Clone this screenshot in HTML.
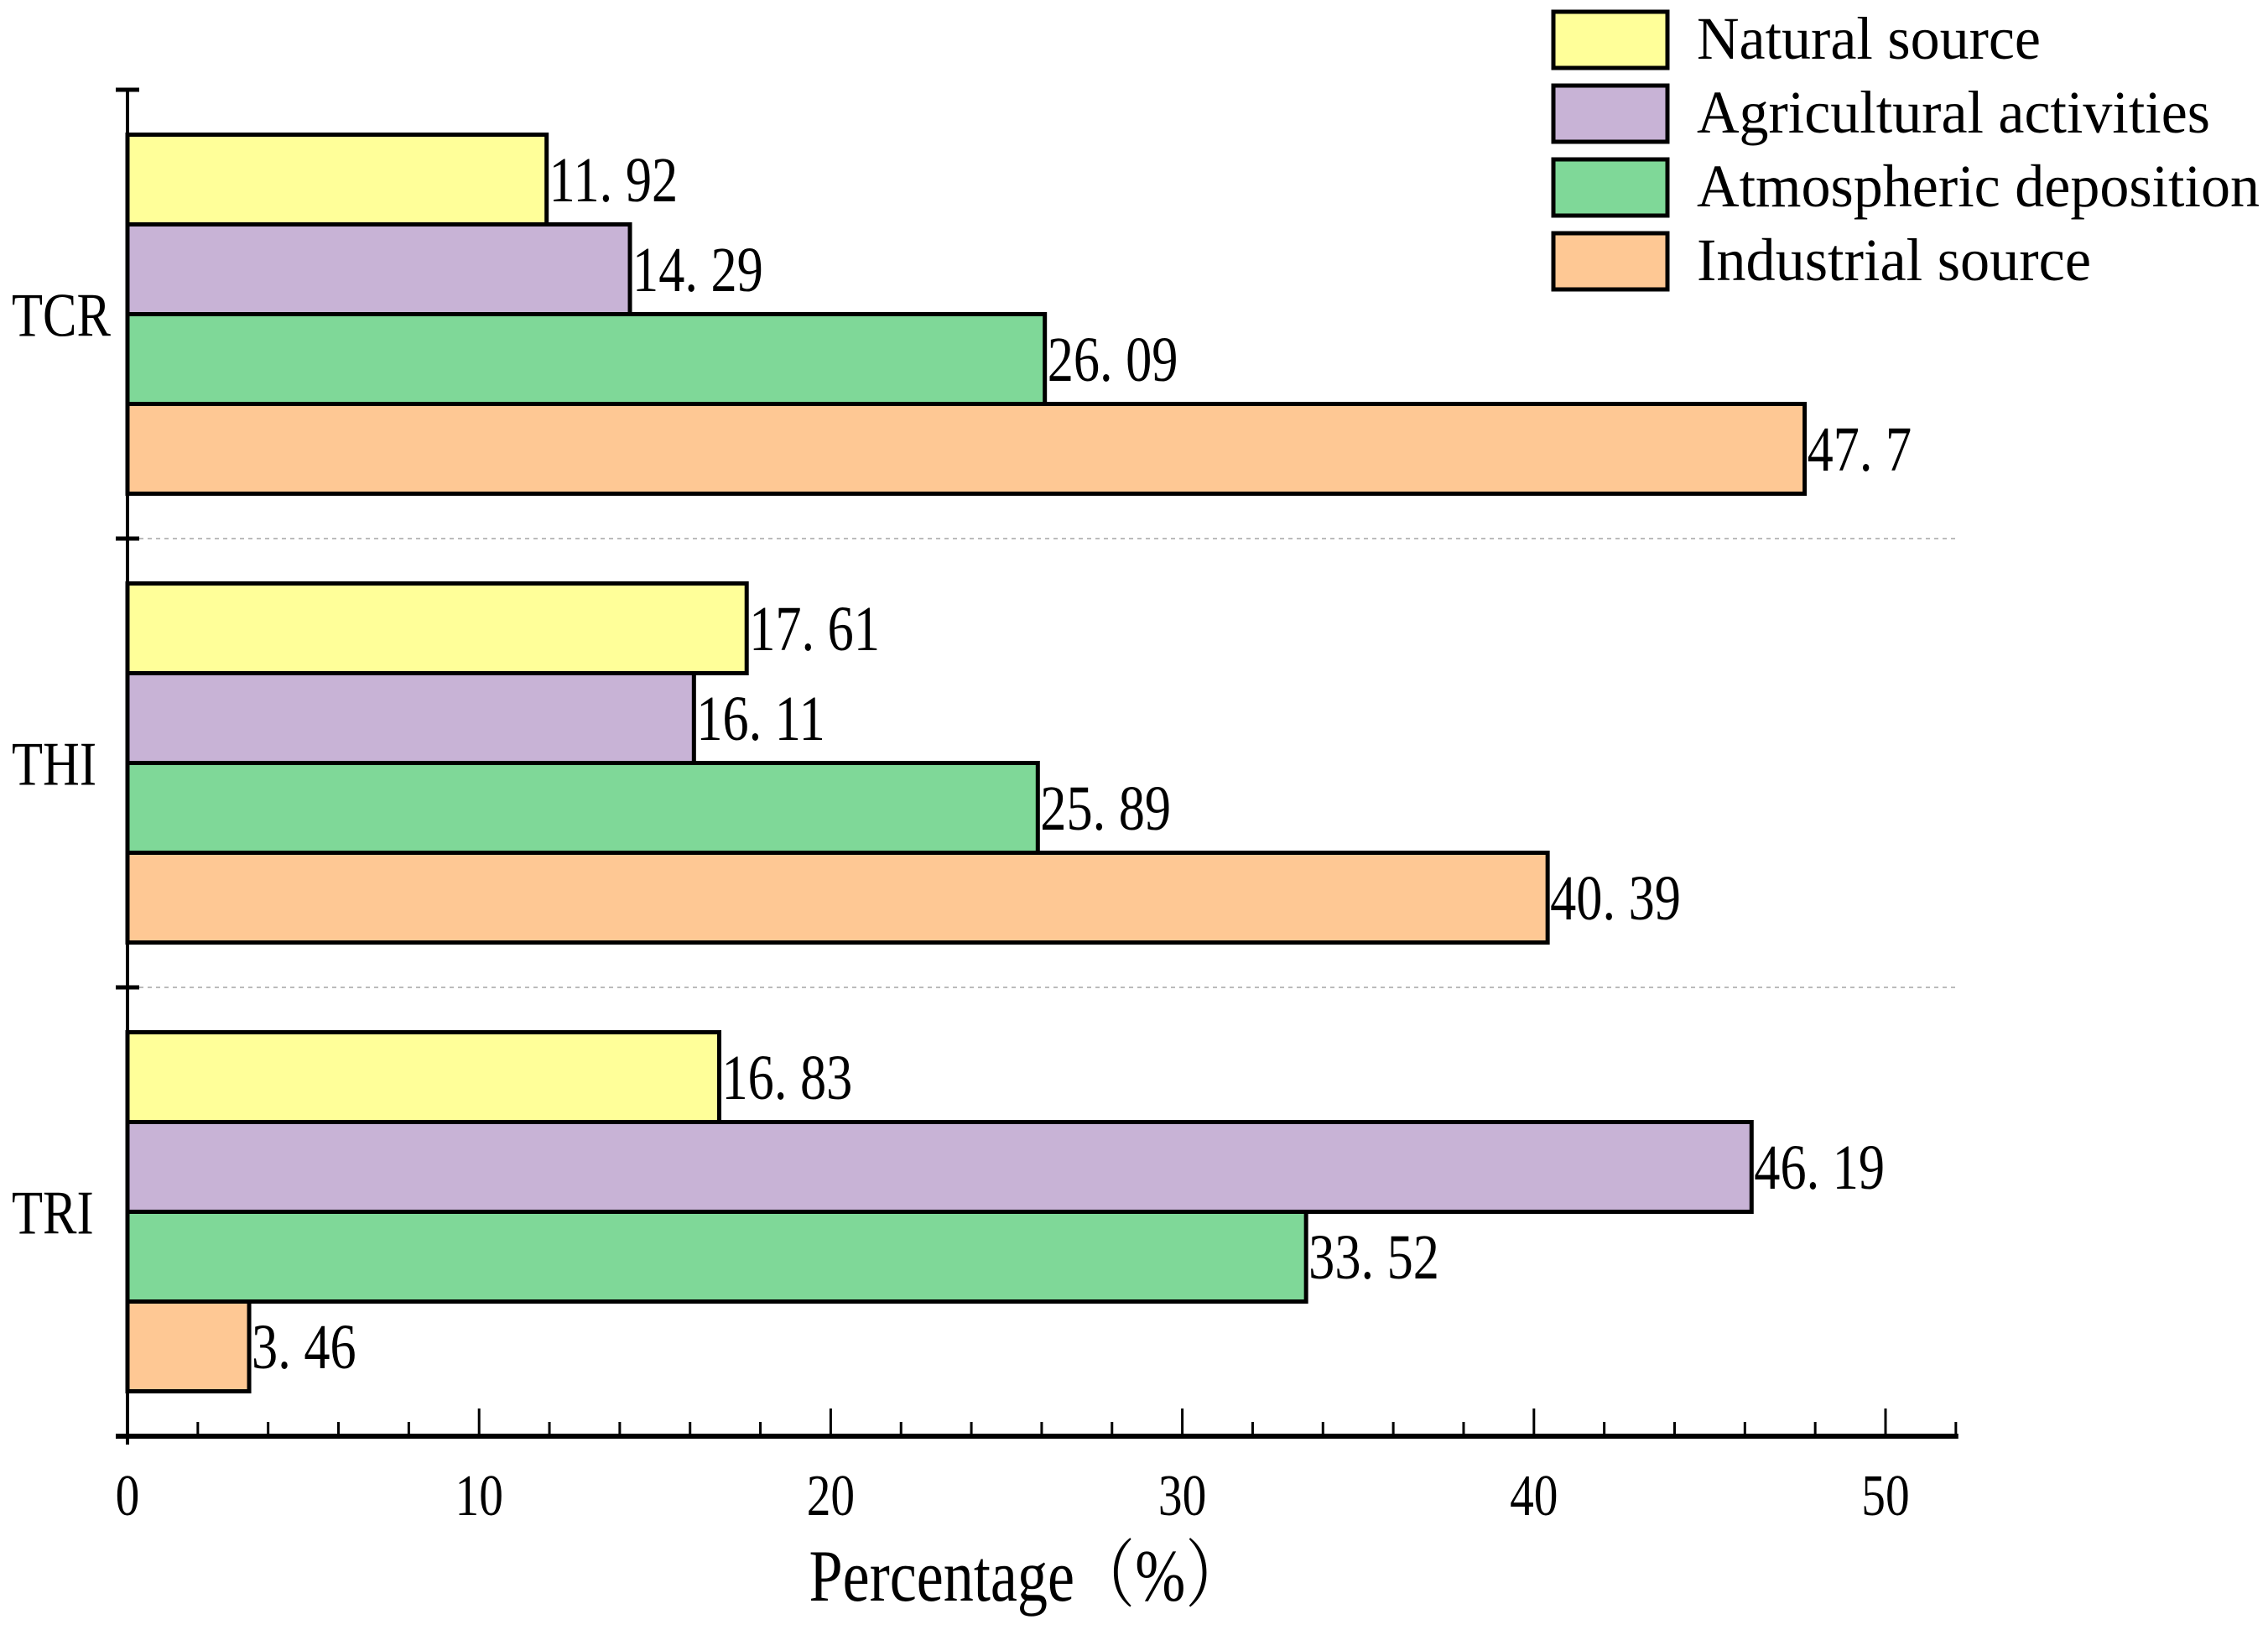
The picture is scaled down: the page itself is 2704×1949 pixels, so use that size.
<!DOCTYPE html>
<html><head><meta charset="utf-8"><style>
html,body{margin:0;padding:0;background:#fff;}
svg{display:block;}
text{font-family:"Liberation Serif","Noto Serif CJK SC",serif;fill:#000;}
</style></head><body>
<svg id="chart" width="2704" height="1949" viewBox="0 0 2704 1949" xmlns="http://www.w3.org/2000/svg"></svg>
<script>
const categories = ["TCR","THI","TRI"];
const seriesNames = ["Natural source","Agricultural activities","Atmospheric deposition","Industrial source"];
const natural = [11.92, 17.61, 16.83];
const agricultural = [14.29, 16.11, 46.19];
const atmospheric = [26.09, 25.89, 33.52];
const industrial = [47.7, 40.39, 3.46];
const valueLabels = [["11. 92","17. 61","16. 83"],["14. 29","16. 11","46. 19"],["26. 09","25. 89","33. 52"],["47. 7","40. 39","3. 46"]];
const xTicks = [0,10,20,30,40,50];

const series = [natural, agricultural, atmospheric, industrial];
const colors = ["#ffff99","#c8b3d6","#7fd898","#fec894"];
const NS = "http://www.w3.org/2000/svg";
const svg = document.getElementById("chart");
const X0 = 152, XUNIT = 41.92, XMAX = 52.07;
const YTOP = 107, YBOT = 1712;
const band = (YBOT - YTOP) / categories.length;
const barH = 107, pad = (band - 4 * barH) / 2;
function xs(v){ return X0 + v * XUNIT; }
function mk(tag, attrs, parent){
  const e = document.createElementNS(NS, tag);
  for (const k in attrs) e.setAttribute(k, attrs[k]);
  (parent || svg).appendChild(e);
  return e;
}
// condensed tall text helper: scale x by 0.82 around x position
function condensed(x, y, size, txt, anchor){
  const t = mk("text", {x: 0, y: 0, "font-size": size, "text-anchor": anchor || "start",
    transform: "translate(" + x + "," + y + ") scale(0.82,1)"});
  t.textContent = txt;
  return t;
}
// separators
for (let i = 1; i < categories.length; i++) {
  const y = YTOP + i * band;
  const g = mk("line", {x1: X0+4, x2: xs(XMAX), y1: y, y2: y, stroke: "#bbb", "stroke-width": 2, "stroke-dasharray": "5,5"});
  
  
}
// bars
categories.forEach((c, ci) => {
  const y0 = YTOP + ci * band + pad;
  series.forEach((s, si) => {
    const y = y0 + si * barH;
    const r = mk("rect", {x: X0, y: y, width: xs(s[ci]) - X0, height: barH, fill: colors[si], stroke: "#000", "stroke-width": 5});
    
    
    const t = condensed(xs(s[ci]) + 3, y + barH/2 + 26, 76, valueLabels[si][ci]);
    
    
  });
  const cl = condensed(14, YTOP + ci * band + band/2 + 26, 74, c);
  
  
});
// y axis
const ya = mk("line", {x1: X0, x2: X0, y1: YTOP, y2: YBOT + 10, stroke: "#000", "stroke-width": 4});


for (let i = 0; i < categories.length; i++) {
  const y = YTOP + i * band;
  const tk = mk("line", {x1: X0 - 14, x2: X0 + 14, y1: y, y2: y, stroke: "#000", "stroke-width": 5});
  
  
}
// x axis
const xa = mk("line", {x1: X0 - 14, x2: xs(XMAX), y1: YBOT, y2: YBOT, stroke: "#000", "stroke-width": 6});


for (let v = 0; v <= 52; v += 2) {
  const major = v % 10 === 0;
  const tk = mk("line", {x1: xs(v), x2: xs(v), y1: YBOT, y2: YBOT - (major ? 33 : 17), stroke: "#000", "stroke-width": 3});
  
  
}
xTicks.forEach(v => {
  const t = condensed(xs(v), 1806, 70, String(v), "middle");
  
  
});
const xt = condensed(1225, 1908, 88, "Percentage（%）", "middle");


// legend
const lg = mk("g", {});


const legendW = [410, 612, 671, 470];
seriesNames.forEach((n, i) => {
  const y = 14 + i * 88;
  const r = mk("rect", {x: 1852, y: y, width: 136, height: 67, fill: colors[i], stroke: "#000", "stroke-width": 5}, lg);
  
  
  const t = mk("text", {x: 2023, y: y + 56, "font-size": 72, textLength: legendW[i], lengthAdjust: "spacingAndGlyphs"}, lg);
  t.textContent = n;
  
  
});
</script>
</body></html>
